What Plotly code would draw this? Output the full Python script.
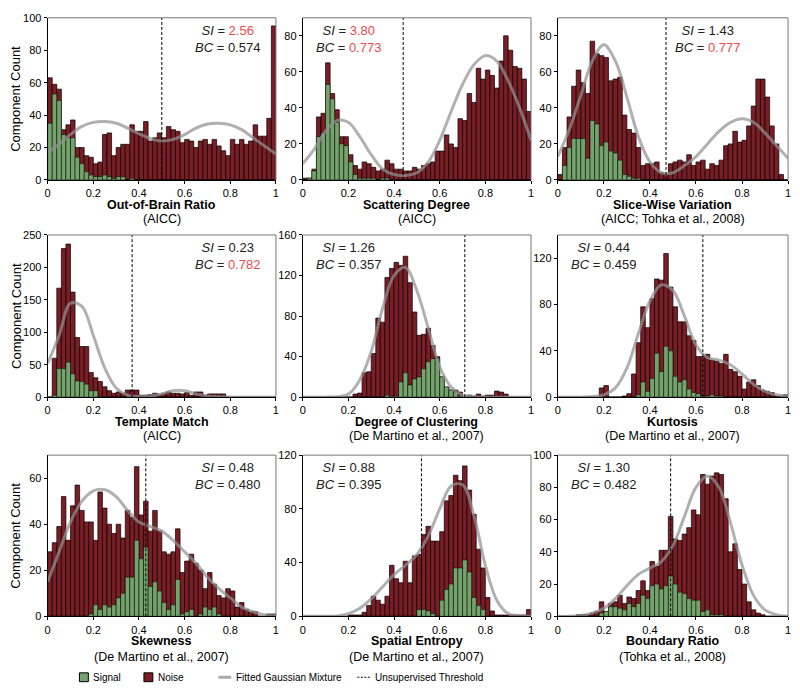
import plotly.graph_objects as go

# ---------------- data ----------------
bin_centers = [round(0.01 + 0.02 * i, 2) for i in range(50)]
curve_x = [0, 0.05, 0.1, 0.15, 0.2, 0.25, 0.3, 0.35, 0.4, 0.45, 0.5,
           0.55, 0.6, 0.65, 0.7, 0.75, 0.8, 0.85, 0.9, 0.95, 1.0]
x_tick_vals = [0, 0.2, 0.4, 0.6, 0.8, 1]
x_tick_text = ["0", "0.2", "0.4", "0.6", "0.8", "1"]

oob_noise = [63, 59, 56, 31, 34, 37, 20, 20, 15, 14, 10, 11, 28, 29, 15, 20, 22, 22, 34, 30,
             30, 36, 24, 26, 29, 26, 33, 31, 30, 23, 25, 24, 20, 24, 25, 22, 25, 21, 18, 15,
             25, 22, 25, 22, 24, 34, 27, 27, 38, 95]
oob_signal = [35, 53, 49, 28, 26, 26, 14, 10, 5, 3, 2, 2, 3, 2, 1, 2, 2, 0, 1, 0,
              0, 0, 0, 0, 0, 0, 0, 0, 0, 0, 0, 0, 0, 0, 0, 0, 0, 0, 0, 0,
              0, 0, 0, 0, 0, 0, 0, 0, 0, 0]
oob_curve = [17, 22, 28, 33, 35.5, 36, 35, 32, 28.5, 25.5, 24, 25, 28, 32, 34.5, 35, 34, 31, 26, 21, 16]

sd_noise = [1, 1, 6, 35, 37, 65, 48, 39, 24, 24, 14, 8, 6, 10, 9, 7, 5, 6, 11, 9,
            6, 6, 5, 5, 7, 6, 8, 9, 10, 16, 16, 25, 20, 18, 34, 33, 48, 43, 62, 56,
            61, 58, 51, 66, 80, 72, 63, 62, 56, 38]
sd_signal = [0, 1, 5, 24, 26, 53, 45, 32, 20, 19, 10, 3, 1, 1, 1, 1, 0, 1, 1, 0,
             0, 0, 0, 0, 0, 0, 0, 0, 0, 0, 0, 0, 0, 0, 0, 0, 0, 0, 0, 0,
             0, 0, 0, 0, 0, 0, 0, 0, 0, 0]
sd_curve = [9, 17, 27, 33, 32, 24, 14, 6, 3, 2.5, 4, 10, 22, 38, 53, 64, 69, 66, 55, 40, 22]

swv_noise = [3, 18, 35, 52, 61, 54, 48, 77, 70, 69, 68, 55, 56, 57, 36, 28, 26, 18, 8, 9,
             9, 10, 4, 3, 9, 10, 11, 10, 14, 8, 10, 11, 6, 9, 8, 11, 19, 20, 27, 21,
             22, 30, 41, 56, 56, 46, 30, 20, 3, 0]
swv_signal = [0, 8, 18, 23, 23, 23, 12, 33, 31, 19, 21, 16, 15, 11, 3, 2, 1, 1, 0, 0,
              0, 0, 0, 0, 0, 0, 0, 0, 0, 0, 0, 0, 0, 0, 0, 0, 0, 0, 0, 0,
              0, 0, 0, 0, 0, 0, 0, 0, 0, 0]
swv_curve = [13, 28, 47, 66, 75, 66, 46, 24, 10, 4, 4, 8, 13, 20, 27, 32, 34, 32, 26, 19, 12]

tm_noise = [0, 60, 168, 229, 236, 162, 92, 78, 78, 38, 30, 24, 16, 10, 6, 8, 6, 11, 11, 11,
            3, 3, 4, 6, 4, 6, 8, 6, 6, 5, 7, 3, 8, 8, 3, 5, 5, 5, 5, 0,
            0, 0, 0, 0, 0, 0, 0, 0, 0, 0]
tm_signal = [0, 3, 44, 44, 54, 36, 25, 24, 20, 10, 10, 0, 1, 0, 0, 0, 0, 0, 0, 0,
             0, 0, 0, 0, 0, 0, 0, 0, 0, 0, 0, 0, 0, 0, 0, 0, 0, 0, 0, 0,
             0, 0, 0, 0, 0, 0, 0, 0, 0, 0]
tm_curve = [52, 95, 145, 140, 95, 45, 14, 3, 1, 2, 5, 10, 10, 5, 2, 0.5, 0, 0, 0, 0, 0]

doc_noise = [0, 0, 0, 0, 0, 0, 0, 0, 0, 0, 0, 3, 4, 24, 25, 43, 78, 74, 118, 127,
             133, 130, 139, 113, 84, 61, 62, 68, 51, 40, 20, 10, 7, 7, 5, 0, 2, 1, 3, 1,
             2, 2, 6, 5, 3, 0, 0, 0, 0, 0]
doc_signal = [0, 0, 0, 0, 0, 0, 0, 0, 0, 0, 0, 0, 0, 0, 0, 0, 0, 0, 2, 1,
              1, 15, 24, 12, 18, 20, 28, 35, 38, 38, 20, 10, 7, 5, 1, 0, 0, 0, 0, 0,
              0, 0, 0, 0, 0, 0, 0, 0, 0, 0]
doc_curve = [0, 0, 0, 0.5, 3, 17, 45, 88, 120, 128, 105, 68, 30, 10, 2, 0.5, 0, 0, 0, 0, 0]

kur_noise = [0, 0, 0, 0, 0, 0, 0, 0, 0, 8, 10, 0, 0, 0, 1, 3, 20, 47, 78, 60,
             85, 102, 101, 124, 95, 78, 65, 65, 53, 49, 35, 35, 37, 32, 31, 29, 37, 24, 22, 18,
             7, 13, 15, 10, 6, 5, 4, 1, 1, 2]
kur_signal = [0, 0, 0, 0, 0, 0, 0, 0, 0, 0, 0, 0, 0, 0, 0, 0, 0, 2, 13, 5,
              16, 38, 22, 44, 40, 18, 13, 15, 7, 4, 3, 1, 1, 2, 1, 1, 0, 0, 0, 0,
              0, 0, 0, 0, 0, 0, 0, 0, 0, 0]
kur_curve = [0, 0, 0, 0.5, 2, 8, 25, 55, 83, 97, 92, 70, 45, 34, 32, 28, 20, 11, 5, 2, 1]

skw_noise = [28, 32, 39, 52, 33, 48, 57, 46, 41, 41, 33, 54, 47, 40, 36, 40, 34, 46, 43, 65,
             44, 50, 37, 46, 37, 28, 27, 28, 38, 19, 24, 27, 23, 20, 12, 19, 14, 9, 8, 12,
             11, 4, 6, 3, 2, 2, 0, 0, 1, 1]
skw_signal = [0, 0, 0, 0, 0, 0, 0, 0, 0, 1, 5, 3, 5, 4, 5, 8, 10, 17, 17, 33,
              25, 30, 13, 15, 11, 6, 3, 5, 16, 1, 2, 3, 0, 1, 4, 3, 4, 1, 0, 0,
              0, 0, 0, 0, 0, 0, 0, 0, 0, 0]
skw_curve = [15, 28, 41, 50, 54.5, 55, 52, 46, 41, 39, 37, 33, 28, 23, 17, 12, 8, 4, 2, 0.7, 0.2]

se_noise = [0, 0, 0, 0, 0, 0, 0, 0, 0, 0, 1, 1, 1, 3, 8, 15, 12, 9, 15, 38,
            28, 25, 41, 25, 45, 46, 61, 67, 56, 56, 63, 86, 90, 105, 101, 112, 94, 76, 50, 36,
            14, 4, 1, 1, 1, 1, 1, 1, 1, 5]
se_signal = [0, 0, 0, 0, 0, 0, 0, 0, 0, 0, 0, 0, 0, 0, 0, 0, 0, 0, 0, 0,
             0, 0, 0, 0, 0, 5, 5, 4, 2, 0, 12, 20, 24, 36, 36, 42, 33, 14, 8, 5,
             0, 0, 0, 0, 0, 0, 0, 0, 0, 0]
se_curve = [0, 0, 0, 0.3, 2, 6, 13, 22, 31, 38, 46, 60, 80, 97, 98, 75, 38, 12, 2, 0.3, 0]

br_noise = [0, 0, 0, 0, 1, 1, 1, 2, 3, 9, 3, 8, 9, 13, 8, 12, 11, 16, 22, 16,
            34, 31, 41, 41, 62, 48, 47, 51, 55, 66, 63, 88, 82, 87, 89, 88, 73, 40, 45, 29,
            20, 9, 4, 2, 1, 0, 0, 0, 0, 0]
br_signal = [0, 0, 0, 0, 0, 0, 0, 0, 0, 2, 3, 6, 6, 5, 4, 8, 6, 8, 13, 11,
             19, 20, 17, 19, 25, 20, 15, 14, 11, 10, 10, 3, 4, 1, 1, 1, 0, 0, 0, 0,
             0, 0, 0, 0, 0, 0, 0, 0, 0, 0]
br_curve = [0, 0, 0.5, 2, 5, 11, 19, 26, 30, 34, 44, 62, 80, 87, 80, 58, 32, 13, 4, 1, 0]

titles = ["Out-of-Brain Ratio", "Scattering Degree", "Slice-Wise Variation",
          "Template Match", "Degree of Clustering", "Kurtosis",
          "Skewness", "Spatial Entropy", "Boundary Ratio"]
subtitles = ["(AICC)", "(AICC)", "(AICC; Tohka et al., 2008)",
             "(AICC)", "(De Martino et al., 2007)", "(De Martino et al., 2007)",
             "(De Martino et al., 2007)", "(De Martino et al., 2007)", "(Tohka et al., 2008)"]
si_values = ["2.56", "3.80", "1.43", "0.23", "1.26", "0.44", "0.48", "0.88", "1.30"]
bc_values = ["0.574", "0.773", "0.777", "0.782", "0.357", "0.459", "0.480", "0.395", "0.482"]
si_highlight = [True, True, False, False, False, False, False, False, False]
bc_highlight = [False, True, True, True, False, False, False, False, False]
thresholds = [0.50, 0.44, 0.47, 0.37, 0.71, 0.63, 0.43, 0.52, 0.49]
y_max = [100, 90, 90, 250, 160, 140, 70, 120, 100]
y_ticks = [[0, 20, 40, 60, 80, 100], [0, 20, 40, 60, 80], [0, 20, 40, 60, 80],
           [0, 50, 100, 150, 200, 250], [0, 40, 80, 120, 160], [0, 40, 80, 120],
           [0, 20, 40, 60], [0, 40, 80, 120], [0, 20, 40, 60, 80, 100]]

noise_sets = [oob_noise, sd_noise, swv_noise, tm_noise, doc_noise, kur_noise, skw_noise, se_noise, br_noise]
signal_sets = [oob_signal, sd_signal, swv_signal, tm_signal, doc_signal, kur_signal, skw_signal, se_signal, br_signal]
curve_sets = [oob_curve, sd_curve, swv_curve, tm_curve, doc_curve, kur_curve, skw_curve, se_curve, br_curve]

# ---------------- styling / layout ----------------
W, H = 800, 698
FONT = "Liberation Sans, Arial, Helvetica, sans-serif"
NOISE_C = "#7b1d24"
SIGNAL_C = "#74a36c"
CURVE_C = "rgba(145,145,145,0.72)"
RED = "#f04a4e"

col_px = [(45, 275), (302, 532), (559, 791)]
row_px = [(12, 177), (233, 398), (457, 621)]
title_y_px = [202, 423, 646]
sub_y_px = [217, 438, 662]
ann_x = [0.787, 0.20, 0.651, 0.787, 0.20, 0.198, 0.787, 0.20, 0.198]

fig = go.Figure()
layout = dict(
    width=W, height=H, margin=dict(l=0, r=0, t=0, b=0),
    paper_bgcolor="white", plot_bgcolor="white",
    barmode="overlay", showlegend=False,
    font=dict(family=FONT, size=11, color="black"),
)
shapes = []
annotations = []

for k in range(9):
    r, c = divmod(k, 3)
    n = k + 1
    xa = f"x{n}" if n > 1 else "x"
    ya = f"y{n}" if n > 1 else "y"
    x0p, x1p = col_px[c]
    y0p, y1p = row_px[r]
    xdom = [x0p / W, x1p / W]
    ydom = [1 - y1p / H, 1 - y0p / H]
    layout[f"xaxis{n}"] = dict(
        domain=xdom, range=[0, 1], anchor=ya, tickvals=x_tick_vals, ticktext=x_tick_text,
        showline=True, linecolor="black", linewidth=1, mirror=False,
        ticks="outside", ticklen=3, tickwidth=1, tickcolor="black",
        showgrid=False, zeroline=False, tickfont=dict(size=11, family=FONT),
        ticklabeloverflow="allow",
    )
    layout[f"yaxis{n}"] = dict(
        domain=ydom, range=[0, y_max[k]], anchor=xa, tickvals=y_ticks[k],
        showline=True, linecolor="black", linewidth=1, mirror=False,
        ticks="outside", ticklen=3, tickwidth=1, tickcolor="black",
        showgrid=False, zeroline=False, tickfont=dict(size=11, family=FONT),
        ticklabeloverflow="allow",
    )

    fig.add_trace(go.Bar(
        x=bin_centers, y=noise_sets[k], width=0.02, name="Noise",
        marker=dict(color=NOISE_C, line=dict(color="black", width=0.7)),
        xaxis=xa, yaxis=ya))
    fig.add_trace(go.Bar(
        x=bin_centers, y=signal_sets[k], width=0.02, name="Signal",
        marker=dict(color=SIGNAL_C, line=dict(color="black", width=0.5)),
        xaxis=xa, yaxis=ya))
    fig.add_trace(go.Scatter(
        x=curve_x, y=curve_sets[k], mode="lines", name="Fitted Gaussian Mixture",
        line=dict(color=CURVE_C, width=3, shape="spline", smoothing=1.0),
        xaxis=xa, yaxis=ya))
    fig.add_trace(go.Scatter(
        x=[thresholds[k], thresholds[k]], y=[0, y_max[k]], mode="lines",
        name="Unsupervised Threshold",
        line=dict(color="black", width=1, dash="3px,2px"),
        xaxis=xa, yaxis=ya))

    # top / right frame in gray
    shapes.append(dict(type="line", xref="paper", yref="paper",
                       x0=xdom[0], x1=xdom[1], y0=ydom[1], y1=ydom[1],
                       line=dict(color="#777", width=1)))
    shapes.append(dict(type="line", xref="paper", yref="paper",
                       x0=xdom[1], x1=xdom[1], y0=ydom[0], y1=ydom[1],
                       line=dict(color="#777", width=1)))

    si_txt = f"<span style='color:{RED}'>{si_values[k]}</span>" if si_highlight[k] else si_values[k]
    bc_txt = f"<span style='color:{RED}'>{bc_values[k]}</span>" if bc_highlight[k] else bc_values[k]
    annotations.append(dict(
        xref=f"{xa} domain", yref=f"{ya} domain", x=ann_x[k], y=0.98,
        xanchor="center", yanchor="top", align="center", showarrow=False,
        text=f"<i>SI</i> = {si_txt}<br><i>BC</i> = {bc_txt}",
        font=dict(size=13, family=FONT, color="#222")))

    xc = (x0p + x1p) / 2 / W
    annotations.append(dict(
        xref="paper", yref="paper", x=xc, y=1 - title_y_px[r] / H,
        xanchor="center", yanchor="middle", showarrow=False,
        text=f"<b>{titles[k]}</b>", font=dict(size=12.5, family=FONT, color="black")))
    annotations.append(dict(
        xref="paper", yref="paper", x=xc, y=1 - sub_y_px[r] / H,
        xanchor="center", yanchor="middle", showarrow=False,
        text=subtitles[k], font=dict(size=12.5, family=FONT, color="black")))

# y axis titles for the left column
for r in range(3):
    yc = 1 - (row_px[r][0] + row_px[r][1]) / 2 / H
    annotations.append(dict(
        xref="paper", yref="paper", x=13 / W, y=yc, textangle=-90,
        xanchor="center", yanchor="middle", showarrow=False,
        text="Component Count", font=dict(size=13, family=FONT, color="black")))

# manual legend at bottom
ly = 1 - 683 / H
hh = 4.5 / H
shapes.append(dict(type="rect", xref="paper", yref="paper",
                   x0=77 / W, x1=86 / W, y0=ly - hh, y1=ly + hh,
                   fillcolor=SIGNAL_C, line=dict(color="black", width=1)))
shapes.append(dict(type="rect", xref="paper", yref="paper",
                   x0=142 / W, x1=151 / W, y0=ly - hh, y1=ly + hh,
                   fillcolor=NOISE_C, line=dict(color="black", width=1)))
shapes.append(dict(type="line", xref="paper", yref="paper",
                   x0=217 / W, x1=230 / W, y0=ly, y1=ly,
                   line=dict(color="#aaa", width=3)))
shapes.append(dict(type="line", xref="paper", yref="paper",
                   x0=357 / W, x1=370 / W, y0=ly, y1=ly,
                   line=dict(color="black", width=1, dash="2px,1.5px")))
legend_items = [("Signal", 89), ("Noise", 154), ("Fitted Gaussian Mixture", 233),
                ("Unsupervised Threshold", 373)]
for txt, px in legend_items:
    annotations.append(dict(
        xref="paper", yref="paper", x=px / W, y=ly, xanchor="left", yanchor="middle",
        showarrow=False, text=txt,
        font=dict(size=10, family="Liberation Sans Narrow, Liberation Sans, Arial", color="black")))

layout["shapes"] = shapes
layout["annotations"] = annotations
fig.update_layout(**layout)
fig.write_html(
    "out.html",
    config={"displayModeBar": False},
    post_script="document.body.style.margin='0';document.body.style.overflow='hidden';",
)
